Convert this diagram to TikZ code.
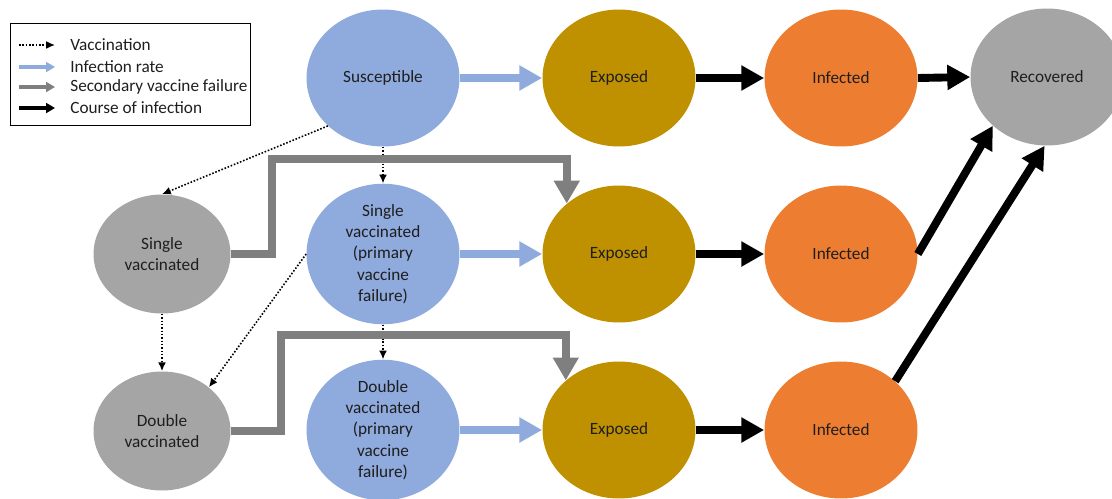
\documentclass[tikz,border=0pt]{standalone}
\usepackage{fontspec}
\setmainfont{Carlito}
\usetikzlibrary{arrows.meta,shapes.geometric}
\definecolor{susblue}{HTML}{8FAADC}
\definecolor{expgold}{HTML}{BF9000}
\definecolor{infor}{HTML}{ED7D31}
\definecolor{recgray}{HTML}{A5A5A5}
\definecolor{failgray}{HTML}{7F7F7F}
\definecolor{txtdark}{HTML}{1E1E1E}
\begin{document}
\begin{tikzpicture}[x=0.02cm,y=-0.02cm,
    state/.style={ellipse,minimum width=3.06cm,minimum height=2.74cm,inner sep=0pt,
      align=center,text=txtdark,font=\fontsize{9.8}{12.1}\selectfont},
    sus/.style={state,fill=susblue},
    exp/.style={state,fill=expgold},
    inf/.style={state,fill=infor},
    rec/.style={state,fill=recgray},
    vstate/.style={state,fill=recgray,minimum width=2.74cm,minimum height=2.38cm},
    vacc/.style={densely dotted,line width=.9pt,-{Latex[length=5pt,width=4.5pt]}},
    rate/.style={susblue,line width=4.5pt,-{Triangle[length=13pt,width=13.6pt]}},
    fail/.style={failgray,line width=4.5pt,line join=miter,-{Triangle[length=13pt,width=14pt]}},
    course/.style={black,line width=4.5pt,-{Triangle[length=13pt,width=13.6pt]}},
    legtext/.style={anchor=west,inner sep=0pt,text=txtdark,font=\fontsize{9.8}{11.7}\selectfont}]
  \useasboundingbox (0,0) rectangle (1112,498);

  %% top row
  \node[sus] (susc) at (383,78) {Susceptible};
  \node[exp] (exA) at (619,78) {Exposed};
  \node[inf] (infA) at (841,78) {Infected};
  \node[rec] (recv) at (1047,77) {Recovered};

  %% single vaccinated row
  \node[vstate] (svgray) at (162,254) {Single\\vaccinated};
  \node[sus] (svblue) at (383,254) {Single\\vaccinated\\(primary\\vaccine\\failure)};
  \node[exp] (exB) at (619,254) {Exposed};
  \node[inf] (infB) at (841,254) {Infected};

  %% double vaccinated row
  \node[vstate] (dvgray) at (162,431) {Double\\vaccinated};
  \node[sus] (dvblue) at (383,430) {Double\\vaccinated\\(primary\\vaccine\\failure)};
  \node[exp] (exC) at (619,430) {Exposed};
  \node[inf] (infC) at (841,430) {Infected};

  %% vaccination
  \draw[vacc] (susc.221) to (svgray.north);
  \draw[vacc] (susc.south) to (svblue.north);
  \draw[vacc] (svgray.south) to (dvgray.north);
  \draw[vacc] (svblue.west) to (dvgray.43);
  \draw[vacc] (svblue.south) to (dvblue.north);

  %% infection rate
  \draw[rate] (susc.east) to (exA.west);
  \draw[rate] (svblue.east) to (exB.west);
  \draw[rate] (dvblue.east) to (exC.west);

  %% secondary vaccine failure
  \coordinate (kneeA) at (272,159);
  \coordinate (kneeB) at (281,335);
  \draw[fail] (svgray.east) -| (kneeA) -| (exB.136);
  \draw[fail] (dvgray.east) -| (kneeB) -| (exC.137);

  %% course of infection
  \draw[course] (exA.east) to (infA.west);
  \draw[course] (exB.east) to (infB.west);
  \draw[course] (exC.east) to (infC.west);
  \draw[course] (infA.east) to (recv.west);
  \draw[course] (infB.east) to (recv.222);
  \draw[course] (infC.42) to (recv.268);

  %% legend
  \draw[line width=.5pt] (10,23) rectangle (250,125);
  \node[legtext] (lgvac) at (70,45) {Vaccination};
  \node[legtext] (lgrate) at (70,67) {Infection rate};
  \node[legtext] (lgfail) at (70,87) {Secondary vaccine failure};
  \node[legtext] (lgcourse) at (70,108) {Course of infection};
  \coordinate (lgvacA) at (19,45);
  \coordinate (lgrateA) at (19,67);
  \coordinate (lgfailA) at (19,87);
  \coordinate (lgcourseA) at (19,108);
  \draw[vacc] (lgvacA) -- ++(36,0);
  \draw[rate,line width=1.8pt,-{Triangle[length=5pt,width=5.5pt]}] (lgrateA) -- ++(36,0);
  \draw[fail,line width=1.8pt,-{Triangle[length=5pt,width=5.5pt]}] (lgfailA) -- ++(36,0);
  \draw[course,line width=1.8pt,-{Triangle[length=5pt,width=5.5pt]}] (lgcourseA) -- ++(36,0);
\end{tikzpicture}
\end{document}
